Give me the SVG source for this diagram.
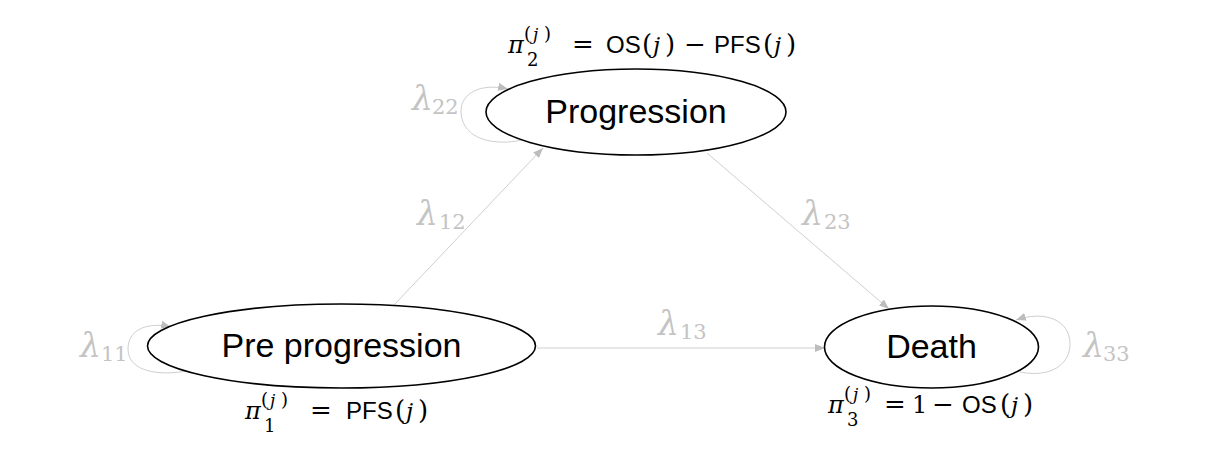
<svg xmlns="http://www.w3.org/2000/svg" width="1217" height="455" viewBox="0 0 1217 455">
<style>
.node{fill:#fff;stroke:#000;stroke-width:1.6}
.nlab{font-family:"Liberation Sans",Arial,sans-serif;font-size:34px;fill:#000;text-anchor:middle}
.edge{fill:none;stroke:#cfcfcf;stroke-width:1}
.lam{font-family:"DejaVu Serif",serif;font-style:italic;font-size:33px;fill:#c4c4c4}
.sub{font-family:"DejaVu Serif",serif;font-size:21px;fill:#c4c4c4}
.m{font-family:"DejaVu Serif",serif;fill:#000}
.mi{font-family:"DejaVu Serif",serif;font-style:italic;fill:#000}
.sf{font-family:"Liberation Sans",Arial,sans-serif;fill:#000;font-size:24px}
.pi{font-size:24px}
.op{font-size:26px}
.par{font-size:26px}
.j{font-size:23px}
.s{font-size:18px}
.sp{font-size:18px}
.sj{font-size:17px}
</style>
<defs>
<marker id="arr" markerUnits="userSpaceOnUse" markerWidth="11" markerHeight="8" refX="10" refY="4" orient="auto">
<path d="M0,0 L10,4 L0,8 z" fill="#bdbdbd"/>
</marker>
</defs>
<g id="connectors">
<path class="edge" d="M394,305 L543,148" marker-end="url(#arr)"/>
<path class="edge" d="M707,153 L889,309" marker-end="url(#arr)"/>
<path class="edge" d="M537,348 L825,348" marker-end="url(#arr)"/>
<path class="edge" d="M522,140 C495,146 463,140 461,113 C460,92 482,83 508,89" marker-end="url(#arr)"/>
<path class="edge" d="M186,371 C160,376 128,372 128,349 C128,328 150,322 171,327" marker-end="url(#arr)"/>
<path class="edge" d="M1020,372 C1050,378 1070,365 1070,344 C1070,320 1045,310 1016,320" marker-end="url(#arr)"/>
<text class="lam" x="412" y="110">λ</text><text class="sub" x="432" y="114">22</text>
<text class="lam" x="80" y="357">λ</text><text class="sub" x="101" y="361">11</text>
<text class="lam" x="1083" y="357">λ</text><text class="sub" x="1103" y="361">33</text>
<text class="lam" x="658" y="335">λ</text><text class="sub" x="680" y="339">13</text>
<text class="lam" x="417" y="225">λ</text><text class="sub" x="439" y="229">12</text>
<text class="lam" x="802" y="225">λ</text><text class="sub" x="824" y="229">23</text>
</g>
<g id="node-progression">
<ellipse class="node" cx="636" cy="112" rx="150" ry="43"/>
<text class="nlab" x="636" y="123">Progression</text>
<text><tspan class="mi pi" x="508" y="53">π</tspan><tspan class="m s" x="527" y="66">2</tspan><tspan class="m sp" x="524" y="40">(</tspan><tspan class="mi sj" x="533" y="40">j</tspan><tspan class="m sp" x="544" y="40">)</tspan><tspan class="m op" x="572" y="53">=</tspan><tspan class="sf" x="606" y="53">OS</tspan><tspan class="m par" x="642" y="53">(</tspan><tspan class="mi j" x="653" y="53">j</tspan><tspan class="m par" x="665" y="53">)</tspan><tspan class="m op" x="684" y="53">−</tspan><tspan class="sf" x="714" y="53">PFS</tspan><tspan class="m par" x="763" y="53">(</tspan><tspan class="mi j" x="774" y="53">j</tspan><tspan class="m par" x="786" y="53">)</tspan></text>
</g>
<g id="node-pre">
<ellipse class="node" cx="341.5" cy="346" rx="194" ry="42"/>
<text class="nlab" x="341.5" y="357">Pre progression</text>
<text><tspan class="mi pi" x="245" y="419">π</tspan><tspan class="m s" x="264" y="432">1</tspan><tspan class="m sp" x="261" y="406">(</tspan><tspan class="mi sj" x="270" y="406">j</tspan><tspan class="m sp" x="281" y="406">)</tspan><tspan class="m op" x="310" y="419">=</tspan><tspan class="sf" x="346" y="419">PFS</tspan><tspan class="m par" x="395" y="419">(</tspan><tspan class="mi j" x="406" y="419">j</tspan><tspan class="m par" x="418" y="419">)</tspan></text>
</g>
<g id="node-death">
<ellipse class="node" cx="931.5" cy="347" rx="107" ry="41"/>
<text class="nlab" x="931.5" y="358">Death</text>
<text><tspan class="mi pi" x="828" y="413">π</tspan><tspan class="m s" x="847" y="426">3</tspan><tspan class="m sp" x="844" y="400">(</tspan><tspan class="mi sj" x="853" y="400">j</tspan><tspan class="m sp" x="864" y="400">)</tspan><tspan class="m op" x="884" y="413">=</tspan><tspan class="m" x="912" y="413" font-size="24">1</tspan><tspan class="m op" x="932" y="413">−</tspan><tspan class="sf" x="962" y="413">OS</tspan><tspan class="m par" x="1000" y="413">(</tspan><tspan class="mi j" x="1011" y="413">j</tspan><tspan class="m par" x="1023" y="413">)</tspan></text>
</g>
</svg>
